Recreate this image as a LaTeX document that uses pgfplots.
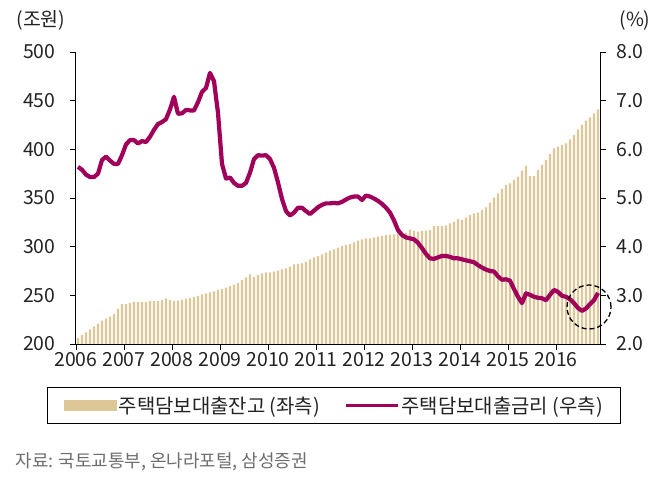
\documentclass[border=0pt]{standalone}
\usepackage{fontspec}
\setmainfont{Noto Sans CJK KR}
\usepackage{pgfplots}
\usepackage{pgfplotstable}
\pgfplotsset{compat=1.18}
\definecolor{loancol}{RGB}{221,199,150}
\definecolor{ratecol}{RGB}{160,0,90}
\definecolor{txtcol}{RGB}{35,35,35}
\definecolor{srccol}{RGB}{110,110,110}

% x = month index + 0.5 (Jan 2006 = 0), loan in 조원 (left), rate in % (right)
\pgfplotstableread{
x     loan   rate
0.5   206    5.64
1.5   209    5.58
2.5   212    5.48
3.5   215    5.43
4.5   218    5.43
5.5   221    5.50
6.5   224    5.78
7.5   226    5.85
8.5   228    5.77
9.5   231    5.70
10.5  236    5.70
11.5  241    5.88
12.5  241    6.10
13.5  242    6.19
14.5  243    6.19
15.5  243    6.12
16.5  243    6.17
17.5  243    6.15
18.5  244    6.26
19.5  244    6.40
20.5  244    6.52
21.5  245    6.56
22.5  247    6.62
23.5  245    6.82
24.5  244    7.08
25.5  244.5  6.73
26.5  245.5  6.74
27.5  246.5  6.81
28.5  247.5  6.80
29.5  248.5  6.80
30.5  249.5  6.97
31.5  251    7.18
32.5  252    7.26
33.5  253    7.57
34.5  254    7.40
35.5  255.5  6.75
36.5  256.5  5.70
37.5  258    5.40
38.5  259.5  5.42
39.5  261    5.31
40.5  262.5  5.25
41.5  265.5  5.25
42.5  268.5  5.31
43.5  271.5  5.52
44.5  269    5.80
45.5  271    5.88
46.5  272.5  5.87
47.5  273.5  5.88
48.5  273.5  5.80
49.5  274.3  5.62
50.5  275.3  5.32
51.5  276.7  4.98
52.5  277.8  4.73
53.5  279.5  4.64
54.5  281.9  4.70
55.5  282.2  4.80
56.5  282.9  4.80
57.5  284.6  4.73
58.5  287    4.67
59.5  289.1  4.74
60.5  290.4  4.81
61.5  292.1  4.86
62.5  293.8  4.89
63.5  295.9  4.89
64.5  297.3  4.90
65.5  298.9  4.89
66.5  300.7  4.92
67.5  301.7  4.97
68.5  302.7  5.01
69.5  304.5  5.03
70.5  306.2  5.03
71.5  307.6  4.96
72.5  308.6  5.05
73.5  308.6  5.03
74.5  309.6  4.99
75.5  310.3  4.94
76.5  311    4.88
77.5  312    4.80
78.5  312.3  4.70
79.5  312.7  4.54
80.5  313.7  4.34
81.5  313    4.24
82.5  314.4  4.19
83.5  317.5  4.17
84.5  316.1  4.15
85.5  315.4  4.08
86.5  316.1  3.97
87.5  316.4  3.85
88.5  317.1  3.76
89.5  321.2  3.75
90.5  321.2  3.78
91.5  321.2  3.81
92.5  321.9  3.81
93.5  324    3.79
94.5  325.7  3.76
95.5  328.4  3.76
96.5  327.4  3.74
97.5  329.8  3.72
98.5  332.5  3.70
99.5  334.3  3.68
100.5 334.9  3.62
101.5 337.7  3.57
102.5 340.4  3.53
103.5 345.2  3.50
104.5 350.3  3.49
105.5 354.8  3.39
106.5 359.5  3.32
107.5 363.5  3.33
108.5 365    3.30
109.5 368.5  3.13
110.5 372    2.97
111.5 378    2.84
112.5 383    3.04
113.5 372.6  3.01
114.5 372.6  2.97
115.5 378.8  2.95
116.5 383.9  2.94
117.5 389    2.90
118.5 395.2  3.01
119.5 401    3.11
120.5 402.7  3.07
121.5 404.5  2.99
122.5 406.2  2.97
123.5 410.3  2.92
124.5 414.7  2.84
125.5 420.6  2.74
126.5 425    2.68
127.5 429.4  2.73
128.5 432.9  2.82
129.5 437    2.90
130.5 441.1  3.05
}\mortgage

\begin{document}
\begin{tikzpicture}
\useasboundingbox (-76bp,-136bp) rectangle (586bp,344bp);
\pgfplotsset{
  every axis/.append style={
    scale only axis, width=524bp, height=292bp,
    xmin=0, xmax=131,
    tick align=outside, major tick length=6bp,
    tick style={black, line width=0.8bp},
    axis line style={black, line width=1bp, -},
    tick label style={font=\fontsize{19.5}{22}\selectfont, text=txtcol},
    /pgf/number format/assume math mode=true,
  }
}
\begin{axis}[
  axis x line*=bottom, axis y line*=left,
  ymin=200, ymax=500, ytick={200,250,...,500},
  xtick={0,12,...,120},
  xticklabels={2006,2007,2008,2009,2010,2011,2012,2013,2014,2015,2016},
  xticklabel style={yshift=1bp},
  yticklabel style={xshift=-11bp},
]
  \addplot[ybar, bar width=2.2bp, fill=loancol, draw=none] table[x=x, y=loan] {\mortgage};
\end{axis}
\begin{axis}[
  axis x line=none, axis y line*=right,
  ymin=2, ymax=8, ytick={2,3,...,8},
  yticklabel style={xshift=7bp, /pgf/number format/.cd, fixed, fixed zerofill, precision=1},
  clip=false,
  legend columns=2,
  legend style={at={(-0.0553,-0.147)}, anchor=north west, draw=black, line width=1.2bp,
    inner xsep=16bp, inner ysep=7bp, font=\fontsize{20}{22}\selectfont, text=txtcol,
    /tikz/every even column/.append style={column sep=22bp}},
]
  \addlegendimage{legend image code/.code={\fill[loancol] (0bp,-5bp) rectangle (52bp,5bp);}}
  \addlegendentry{주택담보대출잔고 (좌측)}
  \addplot[ratecol, line width=4.2bp, line join=round,
    legend image code/.code={\draw[ratecol, line width=3.5bp] (0bp,0bp) -- (52bp,0bp);}]
    table[x=x, y=rate] {\mortgage};
  \addlegendentry{주택담보대출금리 (우측)}
  \draw[black, line width=1.3bp, dash pattern=on 5bp off 3bp] (axis cs:128.25,2.76) circle[radius=22bp];
\end{axis}
\node[text=txtcol, font=\fontsize{19.5}{22}\selectfont] at (-35bp,324bp) {(조원)};
\node[text=txtcol, font=\fontsize{19.5}{22}\selectfont] at (559bp,324bp) {(\%)};
\node[anchor=west, text=srccol, font=\fontsize{18}{20}\selectfont] at (-64bp,-118bp) {자료: 국토교통부, 온나라포털, 삼성증권};
\end{tikzpicture}
\end{document}
